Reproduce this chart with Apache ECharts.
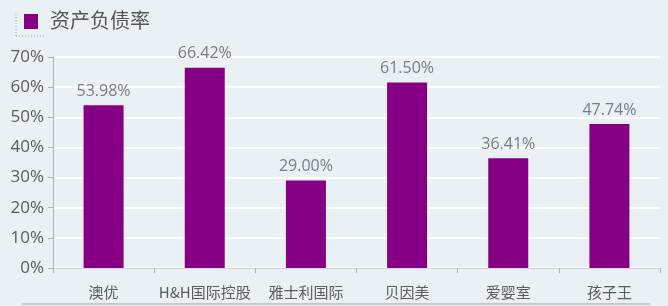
<!DOCTYPE html>
<html><head><meta charset="utf-8">
<script src="https://cdn.jsdelivr.net/npm/echarts@6/dist/echarts.min.js"></script>
<style>html,body{margin:0;padding:0;background:#e9f1f5;}#c{width:668px;height:306px;}</style>
</head><body><div id="c"></div>
<script>
const categories = ['澳优', 'H&H国际控股', '雅士利国际', '贝因美', '爱婴室', '孩子王'];
const values = [53.98, 66.42, 29.00, 61.50, 36.41, 47.74];
const yTicks = [0, 10, 20, 30, 40, 50, 60, 70];
const seriesName = '资产负债率';

const chart = echarts.init(document.getElementById('c'));
chart.setOption({
  backgroundColor: '#e9f1f5',
  animation: false,
  graphic: [
    { type: 'rect', shape: { x: 24, y: 14, width: 14, height: 15 }, style: { fill: '#850085' } },
    { type: 'line', shape: { x1: 16, y1: 14, x2: 16, y2: 36 }, style: { stroke: '#9aa', lineDash: [1, 2], lineWidth: 1 } },
    { type: 'line', shape: { x1: 16, y1: 36, x2: 44, y2: 36 }, style: { stroke: '#9aa', lineDash: [1, 2], lineWidth: 1 } },
    { type: 'text', left: 50, top: 10, style: { text: seriesName, fontSize: 20, fill: '#555', fontFamily: 'Noto Sans CJK SC' } },
    { type: 'line', shape: { x1: 22, y1: 304, x2: 650, y2: 304 }, style: { stroke: '#c4c8cc', lineWidth: 2 } }
  ],
  grid: { left: 53, right: 8, top: 57, bottom: 38 },
  xAxis: {
    type: 'category',
    data: categories,
    axisLine: { lineStyle: { color: '#cfd3d6' } },
    axisTick: { show: true, length: 5, lineStyle: { color: '#b0b4b8' } },
    axisLabel: { interval: 0, color: '#5c5c5c', fontSize: 15, margin: 17, fontFamily: 'Noto Sans CJK SC' }
  },
  yAxis: {
    type: 'value',
    min: 0, max: 70, interval: 10,
    axisLine: { show: true, lineStyle: { color: '#b0b4b8' } },
    axisTick: { show: true, length: 5, lineStyle: { color: '#b0b4b8' } },
    splitLine: { lineStyle: { color: '#ffffff', width: 2 } },
    axisLabel: { color: '#5c5c5c', fontSize: 17, margin: 9, fontFamily: 'Open Sans', formatter: '{value}%' }
  },
  series: [{
    name: seriesName,
    type: 'bar',
    data: values,
    barWidth: 40,
    itemStyle: { color: '#850085' },
    label: {
      show: true, position: 'top', distance: 6,
      color: '#7a7a88', fontSize: 16, fontFamily: 'Open Sans',
      formatter: p => p.value.toFixed(2) + '%'
    }
  }]
});
</script></body></html>
